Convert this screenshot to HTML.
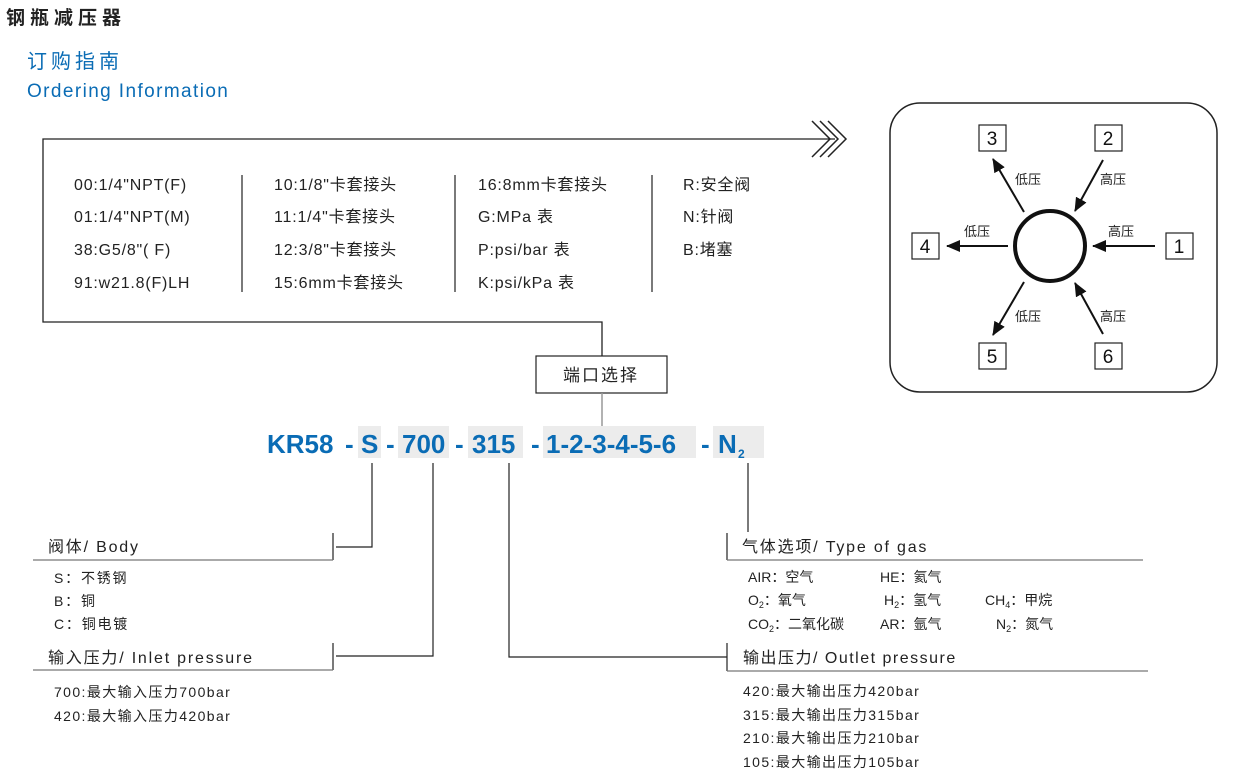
<!DOCTYPE html>
<html><head><meta charset="utf-8"><style>
html,body{margin:0;padding:0;background:#fff;}
svg{display:block;font-family:"Liberation Sans","Noto Sans CJK SC",sans-serif;}
</style></head><body>
<svg width="1244" height="780" viewBox="0 0 1244 780" xmlns="http://www.w3.org/2000/svg">
<text x="6" y="24" font-size="19" font-weight="bold" fill="#222" letter-spacing="5">钢瓶减压器</text>
<text x="27" y="68" font-size="20" fill="#0a6cb5" letter-spacing="4">订购指南</text>
<text x="27" y="97" font-size="19" fill="#0a6cb5" letter-spacing="1.4">Ordering Information</text>

<g stroke="#222" stroke-width="1.5" fill="none">
<polyline points="835,139 43,139 43,322 602,322 602,356" stroke-width="1.3"/>
<polyline points="812,121 830,139 812,157"/>
<polyline points="820,121 838,139 820,157"/>
<polyline points="828,121 846,139 828,157"/>
<rect x="536" y="356" width="131" height="37" stroke-width="1.2"/>
</g>
<line x1="602" y1="393" x2="602" y2="427" stroke="#999" stroke-width="1.5"/>
<text x="601" y="381" font-size="17" text-anchor="middle" fill="#222" letter-spacing="2">端口选择</text>

<g font-size="16" fill="#222" letter-spacing="0.8">
<text x="74" y="190">00:1/4"NPT(F)</text>
<text x="74" y="222">01:1/4"NPT(M)</text>
<text x="74" y="255">38:G5/8"( F)</text>
<text x="74" y="288">91:w21.8(F)LH</text>
<text x="274" y="190">10:1/8"卡套接头</text>
<text x="274" y="222">11:1/4"卡套接头</text>
<text x="274" y="255">12:3/8"卡套接头</text>
<text x="274" y="288">15:6mm卡套接头</text>
<text x="478" y="190">16:8mm卡套接头</text>
<text x="478" y="222">G:MPa 表</text>
<text x="478" y="255">P:psi/bar 表</text>
<text x="478" y="288">K:psi/kPa 表</text>
<text x="683" y="190">R:安全阀</text>
<text x="683" y="222">N:针阀</text>
<text x="683" y="255">B:堵塞</text>
</g>
<g stroke="#222" stroke-width="1.2">
<line x1="242" y1="175" x2="242" y2="292"/>
<line x1="455" y1="175" x2="455" y2="292"/>
<line x1="652" y1="175" x2="652" y2="292"/>
</g>

<rect x="890" y="103" width="327" height="289" rx="30" fill="none" stroke="#222" stroke-width="1.5"/>
<circle cx="1050" cy="246" r="35" fill="none" stroke="#111" stroke-width="4"/>
<defs>
<marker id="b" viewBox="0 0 14 12" markerWidth="14" markerHeight="12" refX="13" refY="6" orient="auto" markerUnits="userSpaceOnUse"><path d="M0,0 L14,6 L0,12 z" fill="#111"/></marker></defs>
<g stroke="#111" stroke-width="2" marker-end="url(#b)">
<line x1="1024" y1="212" x2="993" y2="159"/>
<line x1="1103" y1="160" x2="1075" y2="211"/>
<line x1="1008" y1="246" x2="947" y2="246"/>
<line x1="1155" y1="246" x2="1093" y2="246"/>
<line x1="1024" y1="282" x2="993" y2="335"/>
<line x1="1103" y1="334" x2="1075" y2="283"/>
</g>
<g fill="#fff" stroke="#222" stroke-width="1.2">
<rect x="979" y="125" width="27" height="26"/>
<rect x="1095" y="125" width="27" height="26"/>
<rect x="912" y="233" width="27" height="26"/>
<rect x="1166" y="233" width="27" height="26"/>
<rect x="979" y="343" width="27" height="26"/>
<rect x="1095" y="343" width="27" height="26"/>
</g>
<g font-size="19" text-anchor="middle" fill="#111">
<text x="992" y="145">3</text><text x="1108" y="145">2</text>
<text x="925" y="253">4</text><text x="1179" y="253">1</text>
<text x="992" y="363">5</text><text x="1108" y="363">6</text>
</g>
<g font-size="13" fill="#222">
<text x="1015" y="184">低压</text><text x="1100" y="184">高压</text>
<text x="964" y="236">低压</text><text x="1108" y="236">高压</text>
<text x="1015" y="321">低压</text><text x="1100" y="321">高压</text>
</g>

<g fill="#ececec">
<rect x="358" y="426" width="23" height="32"/>
<rect x="398" y="426" width="51" height="32"/>
<rect x="468" y="426" width="55" height="32"/>
<rect x="543" y="426" width="153" height="32"/>
<rect x="713" y="426" width="51" height="32"/>
</g>
<g font-size="26" font-weight="bold" fill="#0a6cb5">
<text x="267" y="453">KR58</text>
<text x="345" y="453">-</text>
<text x="361" y="453">S</text>
<text x="386" y="453">-</text>
<text x="402" y="453">700</text>
<text x="455" y="453">-</text>
<text x="472" y="453">315</text>
<text x="531" y="453">-</text>
<text x="546" y="453">1-2-3-4-5-6</text>
<text x="701" y="453">-</text>
<text x="718" y="453">N</text>
<text x="738" y="458" font-size="12">2</text>
</g>

<g stroke="#222" stroke-width="1.2" fill="none">
<polyline points="372,463 372,547 336,547"/>
<line x1="333" y1="533" x2="333" y2="560"/>
<polyline points="433,463 433,656 336,656"/>
<line x1="333" y1="643" x2="333" y2="670"/>
<polyline points="509,463 509,657 727,657"/>
<line x1="727" y1="643" x2="727" y2="671"/>
<line x1="748" y1="463" x2="748" y2="532"/>
<line x1="727" y1="533" x2="727" y2="560"/>
</g>
<g stroke="#777" stroke-width="1.3">
<line x1="33" y1="560" x2="333" y2="560"/>
<line x1="33" y1="670" x2="333" y2="670"/>
<line x1="727" y1="560" x2="1143" y2="560"/>
<line x1="727" y1="671" x2="1148" y2="671"/>
</g>
<g font-size="16" fill="#222" letter-spacing="1.8">
<text x="48" y="552">阀体/ Body</text>
<text x="48" y="663">输入压力/ Inlet pressure</text>
<text x="742" y="552">气体选项/ Type of gas</text>
<text x="743" y="663" letter-spacing="1.5">输出压力/ Outlet pressure</text>
</g>
<g font-size="14" fill="#222">
<text x="54" y="583" letter-spacing="1.8">S：不锈钢</text>
<text x="54" y="606" letter-spacing="1.8">B：铜</text>
<text x="54" y="629" letter-spacing="1.8">C：铜电镀</text>
<text x="54" y="697" letter-spacing="1.4">700:最大输入压力700bar</text>
<text x="54" y="721" letter-spacing="1.4">420:最大输入压力420bar</text>
<text x="748" y="582">AIR：空气</text>
<text x="880" y="582">HE：氦气</text>
<text x="748" y="605">O<tspan font-size="9" dy="3">2</tspan><tspan dy="-3">：氧气</tspan></text>
<text x="884" y="605">H<tspan font-size="9" dy="3">2</tspan><tspan dy="-3">：氢气</tspan></text>
<text x="985" y="605">CH<tspan font-size="9" dy="3">4</tspan><tspan dy="-3">：甲烷</tspan></text>
<text x="748" y="629">CO<tspan font-size="9" dy="3">2</tspan><tspan dy="-3">：二氧化碳</tspan></text>
<text x="880" y="629">AR：氩气</text>
<text x="996" y="629">N<tspan font-size="9" dy="3">2</tspan><tspan dy="-3">：氮气</tspan></text>
<g letter-spacing="1.4">
<text x="743" y="696">420:最大输出压力420bar</text>
<text x="743" y="720">315:最大输出压力315bar</text>
<text x="743" y="743">210:最大输出压力210bar</text>
<text x="743" y="767">105:最大输出压力105bar</text>
</g>
</g>
</svg>
</body></html>
